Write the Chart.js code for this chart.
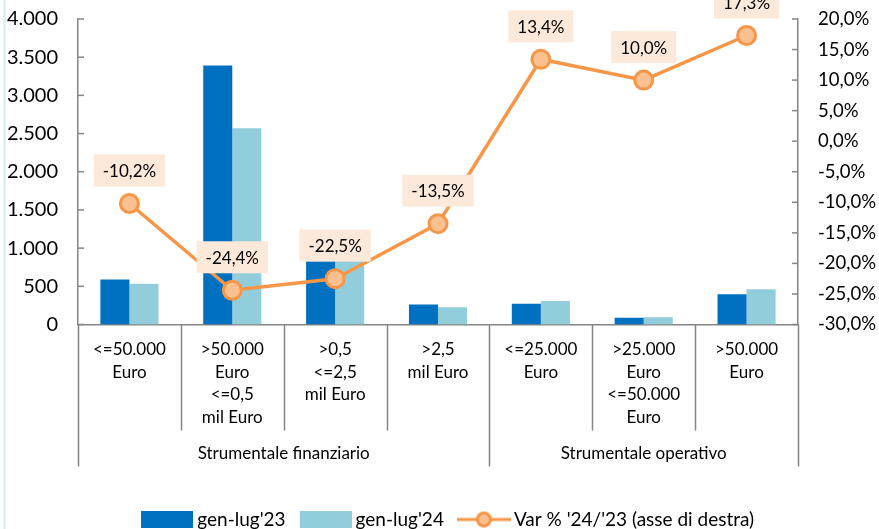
<!DOCTYPE html>
<html>
<head>
<meta charset="utf-8">
<script src="https://cdn.jsdelivr.net/npm/chart.js@4.4.1/dist/chart.umd.min.js"></script>
<style>
  html, body { margin: 0; padding: 0; background: #fff; }
  #wrap { width: 879px; height: 529px; position: relative; }
</style>
</head>
<body>
<div id="wrap"><canvas id="chart" width="879" height="529"></canvas></div>
<script>
// --- data ---
const categories = [
  ['<=50.000', 'Euro'],
  ['>50.000', 'Euro', '<=0,5', 'mil Euro'],
  ['>0,5', '<=2,5', 'mil Euro'],
  ['>2,5', 'mil Euro'],
  ['<=25.000', 'Euro'],
  ['>25.000', 'Euro', '<=50.000', 'Euro'],
  ['>50.000', 'Euro']
];
const groupLabels = ['Strumentale finanziario', 'Strumentale operativo'];
const groupSpans = [[0, 3], [4, 6]];
const values23 = [590, 3390, 1100, 262, 272, 87, 397];
const values24 = [533, 2570, 850, 227, 308, 96, 463];
const varPct = [-10.2, -24.4, -22.5, -13.5, 13.4, 10.0, 17.3];
const seriesNames = ["gen-lug'23", "gen-lug'24", "Var % '24/'23 (asse di destra)"];

const FONT = 'Lato, "Open Sans", sans-serif';
const AXIS = '#868686';
const DARK = '#0070C0';
const LIGHT = '#92CDDC';
const ORANGE = '#F79646';
const PEACH = '#FAC090';

const fmtThousands = v => String(v).replace(/\B(?=(\d{3})+(?!\d))/g, '.');
const fmtPct = v => v.toFixed(1).replace('.', ',') + '%';

// legend symbols as small canvases
function rectSymbol(color) {
  const c = document.createElement('canvas');
  c.width = 52; c.height = 17;
  const g = c.getContext('2d');
  g.fillStyle = color;
  g.fillRect(0, 0, 52, 17);
  return c;
}
function lineSymbol() {
  const c = document.createElement('canvas');
  c.width = 54; c.height = 20;
  const g = c.getContext('2d');
  g.strokeStyle = ORANGE; g.lineWidth = 3;
  g.beginPath(); g.moveTo(0, 10); g.lineTo(54, 10); g.stroke();
  g.fillStyle = PEACH;
  g.beginPath(); g.arc(27, 10, 6.5, 0, Math.PI * 2); g.fill(); g.stroke();
  return c;
}

// y scales: fixed width, and no extra top/bottom padding from tick labels
const fitY = w => scale => {
  scale.width = w;
  scale.paddingTop = 0;
  scale.paddingBottom = 0;
};

const decor = {
  id: 'decor',
  afterLayout(chart) {
    // nudge the legend row to the right, as in the original
    chart.legend.left += 11;
    chart.legend.right += 11;
  },
  beforeDraw(chart) {
    const ctx = chart.ctx;
    ctx.save();
    ctx.strokeStyle = '#DDEDF5';
    ctx.lineWidth = 2.5;
    ctx.beginPath(); ctx.moveTo(4.5, 0); ctx.lineTo(4.5, chart.height); ctx.stroke();
    ctx.restore();
  },
  afterDraw(chart) {
    const ctx = chart.ctx;
    const area = chart.chartArea;
    const x = chart.scales.x;
    const yL = chart.scales.y;
    const yR = chart.scales.y1;
    ctx.save();
    ctx.strokeStyle = AXIS;
    ctx.lineWidth = 1.5;
    // inward tick marks
    yL.ticks.forEach(t => {
      const py = yL.getPixelForValue(t.value);
      ctx.beginPath(); ctx.moveTo(area.left, py); ctx.lineTo(area.left + 6, py); ctx.stroke();
    });
    yR.ticks.forEach(t => {
      const py = yR.getPixelForValue(t.value);
      ctx.beginPath(); ctx.moveTo(area.right - 6, py); ctx.lineTo(area.right, py); ctx.stroke();
    });
    // category separators
    const n = categories.length;
    const edge = i => i === 0 ? area.left : i === n ? area.right
      : (x.getPixelForValue(i - 1) + x.getPixelForValue(i)) / 2;
    const groupEdges = new Set([0, n]);
    groupSpans.forEach(s => { groupEdges.add(s[0]); groupEdges.add(s[1] + 1); });
    for (let i = 0; i <= n; i++) {
      const px = Math.round(edge(i)) + 0.5;
      const len = groupEdges.has(i) ? 142 : 106;
      ctx.beginPath(); ctx.moveTo(px, area.bottom); ctx.lineTo(px, area.bottom + len); ctx.stroke();
    }
    // group labels
    ctx.fillStyle = '#000';
    ctx.font = '17px ' + FONT;
    ctx.textAlign = 'center';
    ctx.textBaseline = 'middle';
    groupLabels.forEach((lab, k) => {
      const cx = (edge(groupSpans[k][0]) + edge(groupSpans[k][1] + 1)) / 2;
      ctx.fillText(lab, cx, area.bottom + 129);
    });
    ctx.restore();
  },
  afterDatasetsDraw(chart) {
    const ctx = chart.ctx;
    const meta = chart.getDatasetMeta(2);
    ctx.save();
    ctx.font = '17px ' + FONT;
    ctx.textAlign = 'center';
    ctx.textBaseline = 'middle';
    meta.data.forEach((pt, i) => {
      const txt = fmtPct(varPct[i]);
      const w = ctx.measureText(txt).width + 18;
      const h = 32;
      const cy = pt.y - 33;
      ctx.fillStyle = '#FDE9D9';
      ctx.fillRect(pt.x - w / 2, cy - h / 2, w, h);
      ctx.fillStyle = '#000';
      ctx.fillText(txt, pt.x, cy + 1);
    });
    ctx.restore();
  }
};

new Chart(document.getElementById('chart'), {
  data: {
    labels: categories,
    datasets: [
      {
        type: 'bar', label: seriesNames[0], data: values23, yAxisID: 'y',
        backgroundColor: DARK, borderWidth: 0, order: 2,
        categoryPercentage: 0.565, barPercentage: 1
      },
      {
        type: 'bar', label: seriesNames[1], data: values24, yAxisID: 'y',
        backgroundColor: LIGHT, borderWidth: 0, order: 2,
        categoryPercentage: 0.565, barPercentage: 1
      },
      {
        type: 'line', label: seriesNames[2], data: varPct, yAxisID: 'y1',
        borderColor: ORANGE, borderWidth: 3.5, tension: 0,
        pointRadius: 9, pointBorderWidth: 3, pointBackgroundColor: PEACH,
        pointBorderColor: ORANGE, order: 0
      }
    ]
  },
  options: {
    responsive: false,
    animation: false,
    layout: { padding: { top: 19, left: 0, right: 0, bottom: -10 } },
    scales: {
      x: {
        grid: { display: false },
        border: { display: true, color: AXIS, width: 1.5 },
        ticks: {
          color: '#000', font: { family: FONT, size: 17, lineHeight: 1.32 },
          padding: 6, maxRotation: 0, autoSkip: false
        },
        afterFit(scale) { scale.height = 166; }
      },
      y: {
        position: 'left', min: 0, max: 4000,
        grid: { display: false, drawTicks: false },
        border: { display: true, color: AXIS, width: 1.5 },
        ticks: {
          stepSize: 500, color: '#000', padding: 20,
          font: { family: FONT, size: 20 },
          callback: v => fmtThousands(v)
        },
        afterFit: fitY(78)
      },
      y1: {
        position: 'right', min: -30, max: 20,
        grid: { display: false, drawTicks: false },
        border: { display: true, color: AXIS, width: 1.5 },
        ticks: {
          stepSize: 5, color: '#000', padding: 20,
          font: { family: FONT, size: 18.5 },
          callback: v => fmtPct(v)
        },
        afterFit: fitY(81)
      }
    },
    plugins: {
      tooltip: { enabled: false },
      legend: {
        position: 'bottom',
        labels: {
          color: '#000',
          font: { family: FONT, size: 19 },
          usePointStyle: true,
          pointStyleWidth: 41,
          boxHeight: 17,
          padding: 19.5,
          generateLabels: () => [
            { text: seriesNames[0], pointStyle: rectSymbol(DARK), datasetIndex: 0, lineWidth: 0 },
            { text: seriesNames[1], pointStyle: rectSymbol(LIGHT), datasetIndex: 1, lineWidth: 0 },
            { text: seriesNames[2], pointStyle: lineSymbol(), datasetIndex: 2, lineWidth: 0 }
          ]
        }
      }
    }
  },
  plugins: [decor]
});
</script>
</body>
</html>
